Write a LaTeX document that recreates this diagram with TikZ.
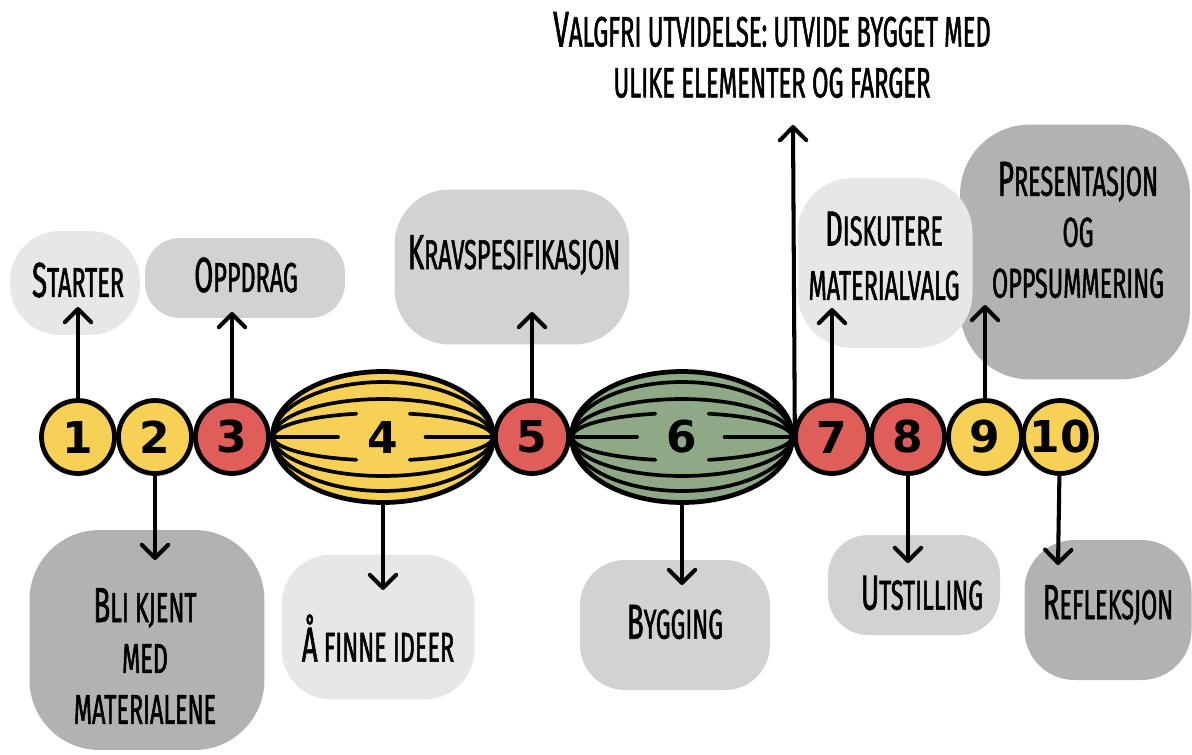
\documentclass[tikz,border=0pt]{standalone}
\usepackage{fontspec}
\usetikzlibrary{arrows.meta,shapes.geometric}
\newfontfamily\handA[FakeStretch=0.56,FakeBold=1.2]{Fira Sans}
\newfontfamily\handB[FakeStretch=0.56,FakeBold=1.2,Scale=0.85]{Fira Sans}
\newfontfamily\numfont{DejaVu Sans}
\newcommand\hsc[2]{{\handA #1}{\handB\MakeUppercase{#2}}}
\newcommand\hcaps[1]{{\handB\MakeUppercase{#1}}}
\definecolor{cyel}{HTML}{F6D155}
\definecolor{cred}{HTML}{E05E5A}
\definecolor{cgrn}{HTML}{8FA886}
\definecolor{glight}{HTML}{E6E7E8}
\definecolor{gmid}{HTML}{D1D2D4}
\definecolor{gdark}{HTML}{B1B2B4}
\begin{document}
\begin{tikzpicture}[x=0.02cm,y=-0.02cm,
  stage/.style={circle,draw=black,line width=2.7pt,minimum size=1.46cm,inner sep=0pt,
    font=\numfont\bfseries\fontsize{25}{25}\selectfont},
  bigstage/.style={ellipse,draw=black,line width=2.7pt,minimum width=4.42cm,minimum height=2.62cm,inner sep=0pt,
    font=\numfont\bfseries\fontsize{25}{25}\selectfont},
  mer/.style={line width=2.1pt,line cap=round},
  blob/.style={rectangle,draw=none,inner sep=0pt},
  lbl/.style={align=center,inner sep=0pt,text=black,font=\fontsize{28}{29}\selectfont},
  arr/.style={line width=2.3pt,-{Straight Barb[length=7.5pt,width=15pt,line width=2.3pt,round]}}
]
\useasboundingbox (0,0) rectangle (1192,754);

% ---- blobs (background shapes) ----
\node[blob,fill=glight,minimum width=2.6cm,minimum height=2.08cm,rounded corners=1cm] (bStarter) at (75,283) {};
\node[blob,fill=gmid,minimum width=4cm,minimum height=1.6cm,rounded corners=0.7cm] (bOppdrag) at (245,278) {};
\node[blob,fill=gmid,minimum width=4.7cm,minimum height=3.1cm,rounded corners=1.1cm] (bKrav) at (512,267) {};
\node[blob,fill=gdark,minimum width=4.6cm,minimum height=5.1cm,rounded corners=1.4cm] (bPres) at (1075,252) {};
\node[blob,fill=glight,minimum width=3.5cm,minimum height=3.4cm,rounded corners=1.1cm] (bDisk) at (885,263) {};
\node[blob,fill=gdark,minimum width=4.7cm,minimum height=4.4cm,rounded corners=1.4cm] (bBli) at (147,640) {};
\node[blob,fill=glight,minimum width=3.86cm,minimum height=2.9cm,rounded corners=1cm] (bIdeer) at (378,627) {};
\node[blob,fill=gmid,minimum width=3.8cm,minimum height=2.6cm,rounded corners=0.9cm] (bBygg) at (675,625) {};
\node[blob,fill=gmid,minimum width=3.44cm,minimum height=2cm,rounded corners=0.8cm] (bUtst) at (914,585) {};
\node[blob,fill=gdark,minimum width=3.34cm,minimum height=2.8cm,rounded corners=1cm] (bRefl) at (1108,610) {};

% ---- stages ----
\node[stage,fill=cyel] (c1) at (78,437) {1};
\node[stage,fill=cyel] (c2) at (155,437) {2};
\node[stage,fill=cred] (c3) at (232,437) {3};
\node[bigstage,fill=cyel] (e4) at (383,437) {4};
\node[stage,fill=cred] (c5) at (532,437) {5};
\node[bigstage,fill=cgrn] (e6) at (682,437) {6};
\node[stage,fill=cred] (c7) at (832,437) {7};
\node[stage,fill=cred] (c8) at (908,437) {8};
\node[stage,fill=cyel] (c9) at (985,437) {9};
\node[stage,fill=cyel] (c10) at (1060,437) {10};

% ---- meridians of the two big stages ----
\foreach \e in {e4,e6}{
  \draw[mer] ([xshift=-2.2cm]\e.center) arc[start angle=180,end angle=0,x radius=2.2cm,y radius=1.1cm];
  \draw[mer] ([xshift=-2.2cm]\e.center) arc[start angle=180,end angle=0,x radius=2.2cm,y radius=0.76cm];
  \draw[mer] ([xshift=-2.2cm]\e.center) arc[start angle=180,end angle=104,x radius=2.2cm,y radius=0.48cm];
  \draw[mer] ([xshift=2.2cm]\e.center) arc[start angle=0,end angle=76,x radius=2.2cm,y radius=0.48cm];
  \draw[mer] ([xshift=-2.2cm]\e.center) arc[start angle=180,end angle=360,x radius=2.2cm,y radius=1.08cm];
  \draw[mer] ([xshift=-2.2cm]\e.center) arc[start angle=180,end angle=360,x radius=2.2cm,y radius=0.78cm];
  \draw[mer] ([xshift=-2.2cm]\e.center) arc[start angle=180,end angle=256,x radius=2.2cm,y radius=0.47cm];
  \draw[mer] ([xshift=2.2cm]\e.center) arc[start angle=360,end angle=284,x radius=2.2cm,y radius=0.47cm];
  \draw[mer] ([xshift=-2.2cm]\e.center) -- ([xshift=-0.9cm]\e.center);
  \draw[mer] ([xshift=2.2cm]\e.center) -- ([xshift=0.85cm]\e.center);
}

% ---- arrow end points ----
\coordinate (t1) at (78,307);
\coordinate (t3) at (232,312);
\coordinate (t5) at (532,312);
\coordinate (t7) at (832,308);
\coordinate (t9) at (985,305);
\coordinate (tv) at (793,125);
\coordinate (d2) at (155,560);
\coordinate (d4) at (383,590);
\coordinate (d6) at (682,585);
\coordinate (d8) at (908,563);
\coordinate (d10) at (1058,565);

\draw[arr] (c1) -- (t1);
\draw[arr] (c3) -- (t3);
\draw[arr] (c5) -- (t5);
\draw[arr] (c7) -- (t7);
\draw[arr] (c9) -- (t9);
\draw[arr] (e6.east) -- (tv);
\draw[arr] (c2) -- (d2);
\draw[arr] (e4) -- (d4);
\draw[arr] (e6) -- (d6);
\draw[arr] (c8) -- (d8);
\draw[arr] (c10) -- (d10);

% ---- labels ----
\node[lbl] (lStarter) at (78,280) {\hsc{S}{tarter}};
\node[lbl] (lOppdrag) at (246,275) {\hsc{O}{ppdrag}};
\node[lbl] (lKrav) at (514,255) {\hsc{K}{ravspesifikasjon}};
\node[lbl,font=\fontsize{28}{31}\selectfont] (lDisk) at (884,256) {\hsc{D}{iskutere}\\\hcaps{materialvalg}};
\node[lbl] (lPres) at (1078,230) {\hsc{P}{resentasjon}\\\hcaps{og}\\\hcaps{oppsummering}};
\node[lbl] (lBli) at (145,656) {\hsc{B}{li kjent}\\\hcaps{med}\\\hcaps{materialene}};
\node[lbl] (lIdeer) at (378,638) {\hsc{Å}{ finne ideer}};
\node[lbl] (lBygg) at (675,622) {\hsc{B}{ygging}};
\node[lbl] (lUtst) at (922,593) {\hsc{U}{tstilling}};
\node[lbl] (lRefl) at (1108,605) {\hsc{R}{efleksjon}};
\node[lbl,font=\fontsize{28.5}{29}\selectfont] (lTop) at (772,55) {\hsc{V}{algfri utvidelse: utvide bygget med}\\\hcaps{ulike elementer og farger}};
\end{tikzpicture}
\end{document}
